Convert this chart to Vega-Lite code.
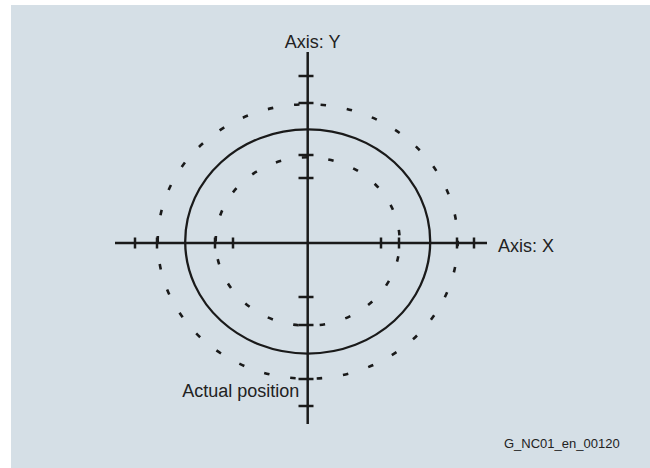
{
  "$schema": "https://vega.github.io/schema/vega-lite/v6.json",
  "width": 650,
  "height": 468,
  "autosize": {"type": "fit", "contains": "padding"},
  "padding": {"left": 11, "top": 5, "right": 0, "bottom": 0},
  "background": "#ffffff",
  "config": {"view": {"stroke": null, "fill": "#d5dfe6"}},
  "encoding": {
    "x": {"field": "x", "type": "quantitative", "axis": null, "scale": {"domain": [-29.67, 34.23], "nice": false, "zero": false, "padding": 0}},
    "y": {"field": "y", "type": "quantitative", "axis": null, "scale": {"domain": [-22.5, 23.8], "nice": false, "zero": false, "padding": 0}}
  },
  "layer": [
    {
      "data": {"values": [{"x": 0, "y": 0.15, "r": 12.25}]},
      "mark": {"type": "point", "filled": false, "shape": "M-1,0A1,0.915,0,1,1,1,0A1,0.915,0,1,1,-1,0Z", "stroke": "#1a1a1a", "strokeWidth": 2.3, "opacity": 1},
      "encoding": {"size": {"field": "r", "type": "quantitative", "legend": null, "scale": {"type": "pow", "exponent": 2, "domain": [0, 10], "range": [0, 40000]}}}
    },
    {
      "data": {"values": [{"x": 0, "y": 0.15, "r": 15.0}, {"x": 0, "y": 0.15, "r": 9.2}]},
      "mark": {"type": "point", "filled": false, "shape": "M-1,0A1,0.915,0,1,1,1,0A1,0.915,0,1,1,-1,0Z", "stroke": "#1a1a1a", "strokeWidth": 2.6, "strokeDash": [5.5, 21], "opacity": 1},
      "encoding": {"size": {"field": "r", "type": "quantitative", "legend": null, "scale": {"type": "pow", "exponent": 2, "domain": [0, 10], "range": [0, 40000]}}}
    },
    {
      "data": {"values": [{"x": -19.27, "x2": 17.93, "y": 0}]},
      "mark": {"type": "rule", "stroke": "#1a1a1a", "strokeWidth": 2.5},
      "encoding": {"x2": {"field": "x2"}}
    },
    {
      "data": {"values": [{"x": 0, "y": 19.1, "y2": -18.1}]},
      "mark": {"type": "rule", "stroke": "#1a1a1a", "strokeWidth": 2.5},
      "encoding": {"y2": {"field": "y2"}}
    },
    {
      "data": {"values": [
        {"x": -17.27, "y": 0}, {"x": -15.07, "y": 0}, {"x": -9.27, "y": 0}, {"x": -7.47, "y": 0},
        {"x": 7.33, "y": 0}, {"x": 9.13, "y": 0}, {"x": 14.93, "y": 0}, {"x": 16.63, "y": 0}
      ]},
      "mark": {"type": "tick", "orient": "vertical", "size": 11, "thickness": 2.5, "color": "#1a1a1a", "opacity": 1}
    },
    {
      "data": {"values": [
        {"x": -0.17, "y": 16.7}, {"x": -0.17, "y": 14.0}, {"x": -0.17, "y": 8.8}, {"x": -0.17, "y": 6.5},
        {"x": -0.17, "y": -5.4}, {"x": -0.17, "y": -8.2}, {"x": -0.17, "y": -13.6}, {"x": -0.17, "y": -16.3}
      ]},
      "mark": {"type": "tick", "orient": "horizontal", "size": 15, "thickness": 2.5, "color": "#1a1a1a", "opacity": 1}
    },
    {
      "data": {"values": [{"x": 0.49, "y": 19.55, "label": "Axis: Y"}]},
      "mark": {"type": "text", "align": "center", "baseline": "alphabetic", "font": "Liberation Sans", "fontSize": 18, "fill": "#222222"},
      "encoding": {"text": {"field": "label"}}
    },
    {
      "data": {"values": [{"x": 19.03, "y": -0.93, "label": "Axis: X"}]},
      "mark": {"type": "text", "align": "left", "baseline": "alphabetic", "font": "Liberation Sans", "fontSize": 18, "fill": "#222222"},
      "encoding": {"text": {"field": "label"}}
    },
    {
      "data": {"values": [{"x": -0.84, "y": -15.37, "label": "Actual position"}]},
      "mark": {"type": "text", "align": "right", "baseline": "alphabetic", "font": "Liberation Sans", "fontSize": 18, "fill": "#222222"},
      "encoding": {"text": {"field": "label"}}
    },
    {
      "data": {"values": [{"x": 19.63, "y": -20.47, "label": "G_NC01_en_00120"}]},
      "mark": {"type": "text", "align": "left", "baseline": "alphabetic", "font": "Liberation Sans", "fontSize": 13, "fill": "#222222"},
      "encoding": {"text": {"field": "label"}}
    }
  ]
}
